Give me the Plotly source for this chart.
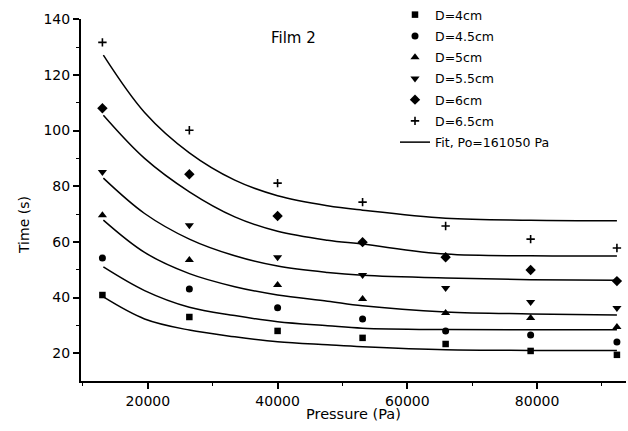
import plotly.graph_objects as go

# ---- data ----
pressure = [13000, 26400, 40000, 53100, 65900, 79000, 92300]
t_d40 = [40.9, 33.0, 28.0, 25.5, 23.3, 20.8, 19.4]
t_d45 = [54.2, 43.1, 36.3, 32.3, 28.0, 26.5, 24.0]
t_d50 = [69.6, 53.5, 44.5, 39.5, 34.4, 32.6, 29.4]
t_d55 = [85.1, 66.0, 54.5, 48.1, 43.4, 38.4, 36.2]
t_d60 = [108.0, 84.3, 69.3, 59.9, 54.5, 49.9, 45.9]
t_d65 = [131.7, 100.1, 81.1, 74.3, 65.7, 61.0, 57.8]

fit_p = [13150, 19500, 26400, 33400, 40000, 47700, 53100, 65900, 79000, 92300]
fit_d40 = [40.2, 32.3, 28.3, 25.9, 24.1, 23.0, 22.3, 21.2, 21.0, 21.0]
fit_d45 = [51.0, 42.5, 36.5, 33.5, 31.3, 29.9, 29.0, 28.5, 28.4, 28.4]
fit_d50 = [67.8, 56.2, 48.6, 43.9, 40.9, 38.7, 37.0, 34.8, 34.1, 33.7]
fit_d55 = [82.9, 70.2, 61.0, 55.0, 51.3, 49.0, 48.0, 47.0, 46.4, 46.2]
fit_d60 = [105.5, 90.0, 78.0, 69.0, 63.8, 60.6, 59.2, 55.6, 55.0, 54.9]
fit_d65 = [127.1, 106.5, 92.0, 82.2, 76.6, 73.0, 71.4, 68.5, 67.8, 67.6]

labels = ["D=4cm", "D=4.5cm", "D=5cm", "D=5.5cm", "D=6cm", "D=6.5cm"]
fit_label = "Fit, Po=161050 Pa"
x_ticks = [20000, 40000, 60000, 80000]
y_ticks = [20, 40, 60, 80, 100, 120, 140]

series = [t_d40, t_d45, t_d50, t_d55, t_d60, t_d65]
fits = [fit_d40, fit_d45, fit_d50, fit_d55, fit_d60, fit_d65]
symbols = ["square", "circle", "triangle-up", "triangle-down", "diamond", "cross-thin"]
sizes = [6.5, 7, 8, 8, 8, 6]

FONT = "DejaVu Sans"
W, H = 628, 431
ML, MR, MT, MB = 81, 2, 19, 50
PW, PH = W - ML - MR, H - MT - MB

def px(xp):
    return (xp - ML) / PW

def py(yp):
    return (H - MB - yp) / PH

fig = go.Figure()

for i, f in enumerate(fits):
    fig.add_trace(go.Scatter(
        x=fit_p, y=f, mode="lines", line=dict(color="black", width=1.5, shape="spline", smoothing=1.0),
        name=fit_label, showlegend=(i == 0), legendgroup="fit", legendrank=100,
        hoverinfo="skip"))

for i, (s, lab) in enumerate(zip(series, labels)):
    mk = dict(symbol=symbols[i], size=sizes[i], color="black")
    if symbols[i] == "cross-thin":
        mk["line"] = dict(color="black", width=1.6)
    fig.add_trace(go.Scatter(
        x=pressure, y=s, mode="markers", marker=mk, name=lab,
        legendgroup="g%d" % i, legendrank=i + 1))

fig.update_layout(
    width=W, height=H,
    margin=dict(l=ML, r=MR, t=MT, b=MB, pad=0, autoexpand=False),
    paper_bgcolor="white", plot_bgcolor="white",
    font=dict(family=FONT, color="black", size=14),
    showlegend=True,
    legend=dict(
        xref="container", yref="container",
        x=395 / W, y=1 + 1 / H, xanchor="left", yanchor="top",
        font=dict(family=FONT, size=12.5, color="black"),
        bgcolor="rgba(0,0,0,0)", tracegroupgap=2, itemwidth=30,
    ),
    xaxis=dict(
        range=[9700, 93700], tickvals=x_ticks, ticktext=[str(v) for v in x_ticks],
        showgrid=False, zeroline=False, showline=True, linecolor="black", linewidth=2,
        ticks="outside", ticklen=6, tickwidth=1.5, tickcolor="black",
        tickfont=dict(family=FONT, size=14, color="black"),
        minor=dict(tickvals=[10000, 30000, 50000, 70000, 90000], ticks="outside", ticklen=3,
                   tickcolor="black", tickwidth=1),
    ),
    yaxis=dict(
        range=[10, 140.1], tickvals=y_ticks, ticktext=[str(v) for v in y_ticks],
        showgrid=False, zeroline=False, showline=True, linecolor="black", linewidth=2,
        ticks="outside", ticklen=6, tickwidth=1.5, tickcolor="black",
        tickfont=dict(family=FONT, size=14, color="black"),
        minor=dict(tickvals=[30, 50, 70, 90, 110, 130], ticks="outside", ticklen=3,
                   tickcolor="black", tickwidth=1),
    ),
    annotations=[
        dict(text="Film 2", x=px(293), y=py(38), xref="paper", yref="paper",
             xanchor="center", yanchor="middle",
             showarrow=False, font=dict(family=FONT, size=15, color="black")),
        dict(text="Pressure (Pa)", x=px(353), y=py(414), xref="paper", yref="paper",
             xanchor="center", yanchor="middle",
             showarrow=False, font=dict(family=FONT, size=14.5, color="black")),
        dict(text="Time (s)", x=px(24), y=py(225), xref="paper", yref="paper",
             xanchor="center", yanchor="middle",
             showarrow=False, textangle=-90, font=dict(family=FONT, size=14, color="black")),
    ],
)

fig.write_html("out.html")
